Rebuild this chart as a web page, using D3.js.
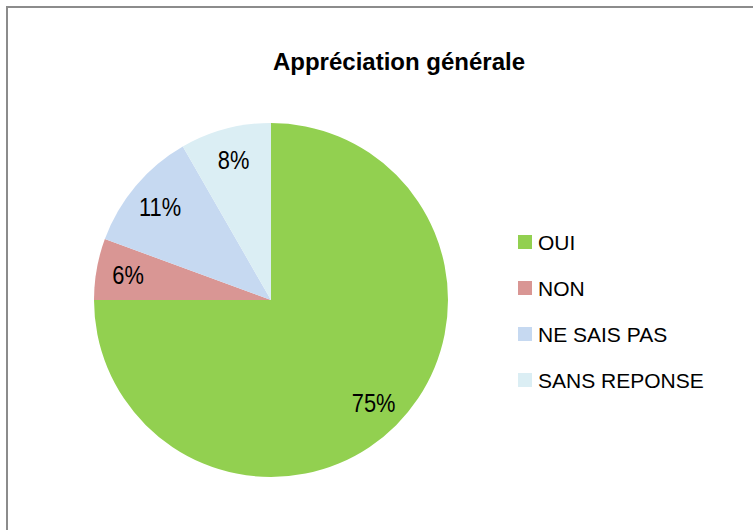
<!DOCTYPE html>
<html>
<head>
<meta charset="utf-8">
<script src="https://cdn.jsdelivr.net/npm/d3@7"></script>
<style>
  body { margin: 0; background: #fff; }
  text { font-family: "Liberation Sans", Arial, sans-serif; }
</style>
</head>
<body>
<script>
// chart data
var categories = ["OUI", "NON", "NE SAIS PAS", "SANS REPONSE"];
var values = [75.0, 5.6, 11.1, 8.3];
var labels = ["75%", "6%", "11%", "8%"];
var colors = ["#92D050", "#D99694", "#C6D9F1", "#DBEEF4"];

var w = 753, h = 530;
var cx = 271, cy = 300, r = 177;

var svg = d3.select("body").append("svg")
  .attr("width", w)
  .attr("height", h);

// chart frame
svg.append("rect")
  .attr("x", 7)
  .attr("y", 7)
  .attr("width", w + 10)
  .attr("height", h + 10)
  .attr("fill", "#fff")
  .attr("stroke", "#8c8c8c")
  .attr("stroke-width", 2);

// title
svg.append("text")
  .attr("x", 399)
  .attr("y", 70)
  .attr("text-anchor", "middle")
  .attr("font-size", 24)
  .attr("font-weight", "bold")
  .text("Appréciation générale");

var pie = d3.pie().sort(null).value(function(d) { return d; });
var arcs = pie(values);

var arc = d3.arc().innerRadius(0).outerRadius(r);
var labelArc = d3.arc().innerRadius(r * 0.82).outerRadius(r * 0.82);

var g = svg.append("g")
  .attr("transform", "translate(" + cx + "," + cy + ")");

g.selectAll("path")
  .data(arcs)
  .enter()
  .append("path")
  .attr("d", arc)
  .attr("fill", function(d, i) { return colors[i]; });

// data labels are drawn tall and narrow, like the original
g.selectAll("text.lbl")
  .data(arcs)
  .enter()
  .append("text")
  .attr("class", "lbl")
  .attr("transform", function(d) {
    return "translate(" + labelArc.centroid(d) + ") scale(0.84,1)";
  })
  .attr("text-anchor", "middle")
  .attr("dy", "0.36em")
  .attr("font-size", 26)
  .attr("fill", "#000")
  .text(function(d, i) { return labels[i]; });

// legend
var legend = svg.append("g")
  .attr("transform", "translate(518,235)");

var item = legend.selectAll("g")
  .data(categories)
  .enter()
  .append("g")
  .attr("transform", function(d, i) { return "translate(0," + (i * 46) + ")"; });

item.append("rect")
  .attr("width", 14)
  .attr("height", 14)
  .attr("fill", function(d, i) { return colors[i]; });

item.append("text")
  .attr("x", 20)
  .attr("y", 15)
  .attr("font-size", 21)
  .attr("transform", "scale(1,1)")
  .text(function(d) { return d; });
</script>
</body>
</html>
